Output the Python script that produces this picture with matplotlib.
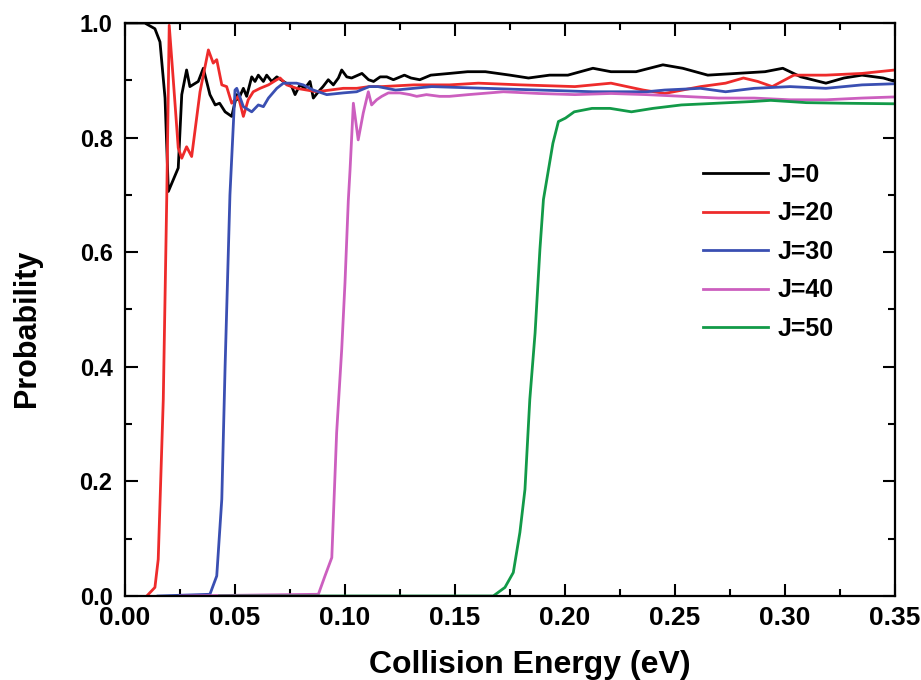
import matplotlib
matplotlib.use('Agg')
import matplotlib.pyplot as plt
from matplotlib.ticker import MultipleLocator, FormatStrFormatter

plt.rcParams['font.family'] = ['Liberation Sans', 'DejaVu Sans']
plt.rcParams['font.weight'] = 'bold'

# J=0
j0_energy = [0.0, 0.009, 0.0136, 0.0159, 0.0182, 0.0197, 0.0242, 0.0258, 0.028, 0.0295,
             0.0333, 0.0356, 0.0386, 0.041, 0.043, 0.0455, 0.0485, 0.0508, 0.0515, 0.0538,
             0.0553, 0.0576, 0.0591, 0.0606, 0.0629, 0.0644, 0.0667, 0.069, 0.072, 0.0758,
             0.0773, 0.0795, 0.0818, 0.0841, 0.0856, 0.0879, 0.09, 0.0924, 0.0947, 0.097,
             0.0985, 0.1008, 0.103, 0.1077, 0.1107, 0.113, 0.116, 0.119, 0.122, 0.127,
             0.130, 0.134, 0.139, 0.1475, 0.1557, 0.1638, 0.175, 0.1834, 0.193, 0.2013,
             0.2127, 0.2209, 0.2323, 0.2445, 0.2535, 0.2649, 0.2779, 0.2909, 0.299, 0.3072,
             0.3186, 0.3268, 0.335, 0.3447, 0.35]
j0_prob = [1.0, 1.0, 0.99, 0.967, 0.869, 0.706, 0.747, 0.875, 0.918, 0.889,
           0.898, 0.921, 0.875, 0.857, 0.86, 0.845, 0.837, 0.875, 0.866, 0.886,
           0.872, 0.906, 0.898, 0.909, 0.898, 0.909, 0.898, 0.906, 0.898, 0.889,
           0.875, 0.892, 0.886, 0.898, 0.869, 0.880, 0.889, 0.901, 0.892, 0.904,
           0.918, 0.906, 0.904, 0.912, 0.901, 0.898, 0.906, 0.906, 0.901, 0.909,
           0.904, 0.901, 0.909, 0.912, 0.915, 0.915, 0.909, 0.904, 0.909, 0.909,
           0.921, 0.915, 0.915, 0.927, 0.921, 0.909, 0.912, 0.915, 0.921, 0.906,
           0.895, 0.904, 0.909, 0.904, 0.898]

# J=20
j20_energy = [0.0099, 0.0136, 0.0151, 0.0174, 0.019, 0.0201, 0.022, 0.0242, 0.0258, 0.028,
              0.0303, 0.0341, 0.0379, 0.0401, 0.0417, 0.044, 0.0462, 0.0485, 0.0515, 0.0538,
              0.056, 0.0583, 0.0614, 0.0652, 0.069, 0.0705, 0.0735, 0.078, 0.0826, 0.0871,
              0.0932, 0.0992, 0.1053, 0.111, 0.1166, 0.1313, 0.1475, 0.1606, 0.18, 0.2045,
              0.2209, 0.2355, 0.2453, 0.2616, 0.273, 0.2811, 0.2876, 0.2942, 0.304, 0.3186,
              0.335, 0.35]
j20_prob = [0.0, 0.015, 0.064, 0.343, 0.70, 0.996, 0.898, 0.782, 0.764, 0.784,
            0.767, 0.880, 0.953, 0.93, 0.936, 0.892, 0.889, 0.860, 0.872, 0.837,
            0.866, 0.880, 0.886, 0.892, 0.901, 0.904, 0.892, 0.886, 0.883, 0.880,
            0.883, 0.886, 0.886, 0.889, 0.889, 0.892, 0.892, 0.895, 0.892, 0.889,
            0.895, 0.883, 0.877, 0.889, 0.895, 0.904, 0.898, 0.889, 0.909, 0.909,
            0.912, 0.918]

# J=30
j30_energy = [0.015, 0.0386, 0.0417, 0.044, 0.0455, 0.047, 0.0477, 0.05, 0.0508, 0.0538,
              0.0576, 0.0606, 0.0629, 0.0652, 0.069, 0.072, 0.078, 0.081, 0.0856, 0.0917,
              0.0992, 0.1053, 0.111, 0.115, 0.123, 0.1394, 0.1638, 0.1883, 0.2127, 0.2371,
              0.2453, 0.2616, 0.273, 0.286, 0.3023, 0.3186, 0.335, 0.35]
j30_prob = [0.0, 0.003, 0.035, 0.169, 0.401, 0.605, 0.70, 0.883, 0.886, 0.854,
            0.845, 0.857, 0.854, 0.869, 0.886, 0.895, 0.895, 0.892, 0.883, 0.875,
            0.878, 0.880, 0.889, 0.889, 0.883, 0.889, 0.886, 0.883, 0.880, 0.880,
            0.883, 0.886, 0.880, 0.886, 0.889, 0.886, 0.892, 0.894]

# J=40
j40_energy = [0.025, 0.0879, 0.0909, 0.094, 0.0962, 0.0985, 0.1, 0.1015, 0.1023, 0.1038,
              0.106, 0.1083, 0.1106, 0.1121, 0.1144, 0.1167, 0.1197, 0.125, 0.1295, 0.1326,
              0.137, 0.143, 0.1475, 0.156, 0.172, 0.188, 0.2045, 0.2209, 0.237, 0.2535,
              0.2697, 0.286, 0.3023, 0.3186, 0.335, 0.35]
j40_prob = [0.0, 0.003, 0.035, 0.067, 0.285, 0.43, 0.547, 0.69, 0.744, 0.860,
            0.796, 0.843, 0.880, 0.857, 0.866, 0.872, 0.878, 0.878, 0.875, 0.872,
            0.875, 0.872, 0.872, 0.875, 0.880, 0.877, 0.875, 0.877, 0.875, 0.872,
            0.869, 0.869, 0.866, 0.866, 0.869, 0.871]

# J=50
j50_energy = [0.043, 0.1674, 0.1727, 0.1765, 0.1795, 0.1818, 0.184, 0.1864, 0.1886, 0.1902,
              0.1945, 0.197, 0.2002, 0.2042, 0.2123, 0.2205, 0.2302, 0.24, 0.2529, 0.2691,
              0.2854, 0.2935, 0.3097, 0.326, 0.35]
j50_prob = [0.0, 0.0, 0.015, 0.041, 0.111, 0.186, 0.343, 0.459, 0.605, 0.692,
            0.790, 0.828, 0.834, 0.845, 0.851, 0.851, 0.845, 0.851, 0.857, 0.860,
            0.863, 0.865, 0.861, 0.860, 0.859]

labels = ['J=0', 'J=20', 'J=30', 'J=40', 'J=50']
colors = ['#000000', '#ee2b2b', '#3a4fb2', '#cc5fbf', '#129a48']
energies = [j0_energy, j20_energy, j30_energy, j40_energy, j50_energy]
probs = [j0_prob, j20_prob, j30_prob, j40_prob, j50_prob]

fig = plt.figure(figsize=(9.21, 6.8), dpi=100)
ax = fig.add_axes([125 / 921, 1 - 596 / 680, 770 / 921, 573 / 680])

for e, p, c, lab in zip(energies, probs, colors, labels):
    ax.plot(e, p, color=c, lw=2.0, label=lab)

ax.set_xlim(0.0, 0.35)
ax.set_ylim(0.0, 1.0)
ax.xaxis.set_major_locator(MultipleLocator(0.05))
ax.xaxis.set_minor_locator(MultipleLocator(0.025))
ax.yaxis.set_major_locator(MultipleLocator(0.2))
ax.yaxis.set_minor_locator(MultipleLocator(0.1))
ax.xaxis.set_major_formatter(FormatStrFormatter('%.2f'))
ax.yaxis.set_major_formatter(FormatStrFormatter('%.1f'))

for s in ax.spines.values():
    s.set_linewidth(1.6)
ax.tick_params(which='both', direction='in', top=True, right=True, width=1.5)
ax.tick_params(which='major', length=9)
ax.tick_params(which='minor', length=5)
ax.tick_params(axis='x', labelsize=19, pad=7)
ax.tick_params(axis='y', labelsize=17, pad=9)

ax.set_xlabel('Collision Energy (eV)', fontsize=23, fontweight='bold')
ax.set_ylabel('Probability', fontsize=22, fontweight='bold')
ax.xaxis.set_label_coords(0.526, -0.094)
ax.yaxis.set_label_coords(-0.108, 0.468)

leg = ax.legend(loc='upper left', bbox_to_anchor=(0.75, 0.756), frameon=False,
                fontsize=18, handlelength=2.6, handletextpad=0.4,
                labelspacing=0.58, borderaxespad=0, borderpad=0)
for t in leg.get_texts():
    t.set_fontweight('bold')

plt.savefig('out.png', dpi=100)
plt.close()
